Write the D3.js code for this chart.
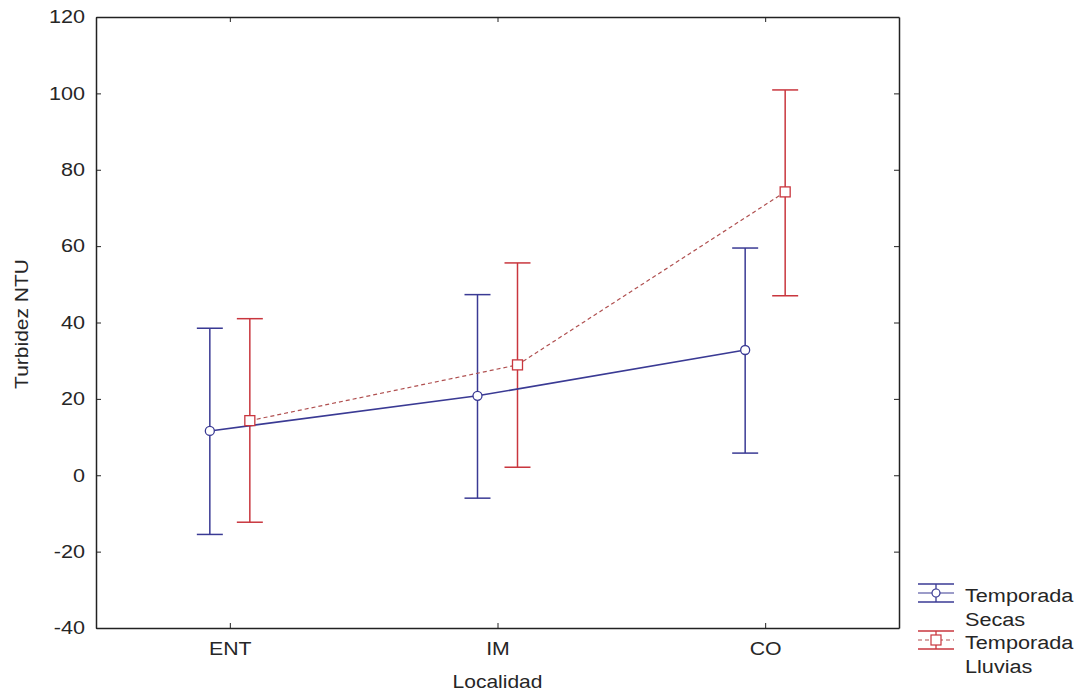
<!DOCTYPE html>
<html>
<head>
<meta charset="utf-8">
<script src="https://cdn.jsdelivr.net/npm/d3@7"></script>
<style>
  body { margin: 0; background: #fff; }
  text { font-family: "Liberation Sans", Arial, sans-serif; fill: #262626; }
</style>
</head>
<body>
<div id="chart"></div>
<script>
// categories and series values (mean, lower, upper)
var localidades = ["ENT", "IM", "CO"];
var secasMean  = [11.6, 20.8, 32.8];
var secasLow   = [-15.5, -6.0, 5.8];
var secasHigh  = [38.5, 47.3, 59.5];
var lluviasMean = [14.3, 28.9, 74.2];
var lluviasLow  = [-12.3, 2.1, 47.0];
var lluviasHigh = [41.0, 55.6, 100.9];
var yTicks = [-40, -20, 0, 20, 40, 60, 80, 100, 120];
var legendLabels = [["Temporada", "Secas"], ["Temporada", "Lluvias"]];

var blue = "#3a3a94", red = "#c9363e";

var margin = {top: 17, right: 186, bottom: 68, left: 96},
    width = 1085 - margin.left - margin.right,
    height = 696 - margin.top - margin.bottom;

// the reference text is a bit wider than Liberation Sans, stretch it horizontally
function stretch(sel, k) {
  sel.each(function() {
    var t = d3.select(this);
    var tx = +t.attr("x") || 0, ty = +t.attr("y") || 0;
    t.attr("x", 0).attr("y", 0)
      .attr("transform", (t.attr("transform") || "") + " translate(" + tx + "," + ty + ") scale(" + k + ",1)");
  });
}

var svg = d3.select("#chart").append("svg")
    .attr("width", 1085)
    .attr("height", 696)
  .append("g")
    .attr("transform", "translate(" + margin.left + "," + margin.top + ")");

var x = d3.scalePoint().domain(localidades).range([0, width]).padding(0.5);
var y = d3.scaleLinear().domain([-40, 120]).range([height, 0]);

// build series
var series = [
  {name: "secas", color: blue, off: -20, dash: null,
   pts: localidades.map(function(c, i) { return {c: c, m: secasMean[i], lo: secasLow[i], hi: secasHigh[i]}; })},
  {name: "lluvias", color: red, off: 20, dash: "4,3",
   pts: localidades.map(function(c, i) { return {c: c, m: lluviasMean[i], lo: lluviasLow[i], hi: lluviasHigh[i]}; })}
];

// axes (ticks point inward)
svg.append("g").call(d3.axisLeft(y).tickValues(yTicks).tickSizeInner(-5).tickSizeOuter(0).tickPadding(11)
    .tickFormat(function(d) { return String(d); }))
  .call(function(g) { g.selectAll("text").style("font-size", "18px").call(stretch, 1.2); });
svg.append("g").attr("transform", "translate(" + width + ",0)")
  .call(d3.axisRight(y).tickValues(yTicks).tickSizeInner(-5).tickSizeOuter(0).tickFormat(""));
svg.append("g").attr("transform", "translate(0," + height + ")")
  .call(d3.axisBottom(x).tickSizeInner(-5).tickSizeOuter(0).tickPadding(14))
  .call(function(g) { g.selectAll("text").style("font-size", "19px").call(stretch, 1.12); });
svg.append("g")
  .call(d3.axisTop(x).tickSizeInner(-5).tickSizeOuter(0).tickFormat(""));
svg.selectAll(".domain").attr("stroke", "#222").attr("stroke-width", 1.5);
svg.selectAll(".tick line").attr("stroke", "#222");

// lines
var line = d3.line()
  .x(function(d) { return x(d.c); })
  .y(function(d) { return y(d.m); });

series.forEach(function(s) {
  var g = svg.append("g").attr("transform", "translate(" + s.off + ",0)");

  // error bars
  var eb = g.selectAll(".eb").data(s.pts).enter().append("g");
  eb.append("line")
    .attr("x1", function(d) { return x(d.c); }).attr("x2", function(d) { return x(d.c); })
    .attr("y1", function(d) { return y(d.lo); }).attr("y2", function(d) { return y(d.hi); })
    .attr("stroke", s.color).attr("stroke-width", 1.5);
  ["lo", "hi"].forEach(function(k) {
    eb.append("line")
      .attr("x1", function(d) { return x(d.c) - 13; }).attr("x2", function(d) { return x(d.c) + 13; })
      .attr("y1", function(d) { return y(d[k]); }).attr("y2", function(d) { return y(d[k]); })
      .attr("stroke", s.color).attr("stroke-width", 1.5);
  });
});

// connecting lines, then markers on top
series.forEach(function(s) {
  var g = svg.append("g").attr("transform", "translate(" + s.off + ",0)");
  g.append("path").datum(s.pts)
    .attr("d", line)
    .attr("fill", "none")
    .attr("stroke", s.name == "secas" ? blue : "#b05050")
    .attr("stroke-width", s.name == "secas" ? 1.6 : 1.2)
    .attr("stroke-dasharray", s.dash);
  if (s.name == "secas") {
    g.selectAll("circle").data(s.pts).enter().append("circle")
      .attr("cx", function(d) { return x(d.c); })
      .attr("cy", function(d) { return y(d.m); })
      .attr("r", 4.5)
      .attr("fill", "#fff").attr("stroke", s.color).attr("stroke-width", 1.3);
  } else {
    g.selectAll("rect").data(s.pts).enter().append("rect")
      .attr("x", function(d) { return x(d.c) - 5; })
      .attr("y", function(d) { return y(d.m) - 5; })
      .attr("width", 10).attr("height", 10)
      .attr("fill", "#fff").attr("stroke", s.color).attr("stroke-width", 1.3);
  }
});

// axis titles
svg.append("text")
  .attr("x", width / 2).attr("y", height + 60)
  .style("text-anchor", "middle").style("font-size", "17.5px")
  .text("Localidad")
  .call(stretch, 1.2);
svg.append("text")
  .attr("transform", "rotate(-90)")
  .attr("x", -307).attr("y", -68)
  .style("text-anchor", "middle").style("font-size", "17.5px")
  .text("Turbidez NTU")
  .call(stretch, 1.2);

// legend
var leg = svg.append("g").attr("transform", "translate(" + (width + 19) + "," + (height - 35) + ")");
series.forEach(function(s, i) {
  var gy = i * 47;
  var lg = leg.append("g").attr("transform", "translate(0," + gy + ")");
  lg.append("line").attr("x1", 0).attr("x2", 36).attr("y1", -9).attr("y2", -9).attr("stroke", s.color).attr("stroke-width", 1.3);
  lg.append("line").attr("x1", 0).attr("x2", 36).attr("y1", 9).attr("y2", 9).attr("stroke", s.color).attr("stroke-width", 1.3);
  lg.append("line").attr("x1", 18).attr("x2", 18).attr("y1", -9).attr("y2", 9).attr("stroke", s.color).attr("stroke-width", 1.3);
  lg.append("line").attr("x1", 0).attr("x2", 36).attr("y1", 0).attr("y2", 0)
    .attr("stroke", s.name == "secas" ? blue : "#b05050").attr("stroke-width", 1.2).attr("stroke-dasharray", s.dash);
  if (s.name == "secas") {
    lg.append("circle").attr("cx", 18).attr("cy", 0).attr("r", 4).attr("fill", "#fff").attr("stroke", s.color).attr("stroke-width", 1.2);
  } else {
    lg.append("rect").attr("x", 13).attr("y", -5).attr("width", 10).attr("height", 10).attr("fill", "#fff").attr("stroke", s.color).attr("stroke-width", 1.2);
  }
  lg.selectAll("text").data(legendLabels[i]).enter().append("text")
    .attr("x", 47).attr("y", function(d, j) { return 9 + j * 24; })
    .style("font-size", "19px")
    .text(function(d) { return d; })
    .call(stretch, 1.14);
});
</script>
</body>
</html>
